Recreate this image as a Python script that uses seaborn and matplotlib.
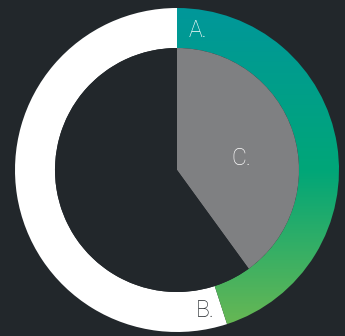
import numpy as np
import matplotlib
matplotlib.use("Agg")
import matplotlib.pyplot as plt
import seaborn as sns

# Outer ring: share of A vs B (clockwise from 12 o'clock)
ring_labels = ["A.", "B."]
ring_values = [45, 55]

# Inner pie: C vs remainder
pie_labels = ["C.", ""]
pie_values = [40, 60]

bg = "#22272b"
ring_grad = ["#00979a", "#00a678", "#6cb852"]

sns.set_theme(style="white")
plt.rcParams["font.family"] = ["Roboto", "DejaVu Sans"]

fig = plt.figure(figsize=(3.45, 3.36), dpi=100, facecolor=bg)
ax = fig.add_axes([15 / 345, 4 / 336, 324 / 345, 324 / 336])
ax.set_facecolor(bg)
ax.set_xlim(-1, 1)
ax.set_ylim(-1, 1)
ax.set_aspect("equal")
ax.axis("off")

ring_width = 40 / 162
inner_r = 1 - ring_width

# ring
ring_wedges, _ = ax.pie(ring_values, radius=1, startangle=90, counterclock=False,
                        colors=["none", "white"],
                        wedgeprops=dict(width=ring_width, linewidth=0))

# vertical gradient for A, clipped to its wedge
cmap = sns.blend_palette(ring_grad, as_cmap=True)
grad = np.linspace(0, 1, 256).reshape(-1, 1)
img = ax.imshow(grad, cmap=cmap, extent=[-1, 1, -1, 1], origin="upper",
                aspect="auto", zorder=1, interpolation="bilinear")
img.set_clip_path(ring_wedges[0])

# inner pie
pie_wedges, _ = ax.pie(pie_values, radius=inner_r, startangle=90, counterclock=False,
                       colors=["#7f8082", bg], wedgeprops=dict(linewidth=0))
for w in pie_wedges:
    w.set_zorder(2)

ax.set_xlim(-1, 1)
ax.set_ylim(-1, 1)

text_kw = dict(fontsize=16.5, fontweight="light", ha="center", va="center", zorder=5)
ax.text(0.13, 0.86, ring_labels[0], color="white", **text_kw)
ax.text(0.173, -0.87, ring_labels[1], color=bg, **text_kw)
ax.text(0.395, 0.074, pie_labels[0], color="white", **text_kw)

fig.savefig("out.png", dpi=100, facecolor=bg)
